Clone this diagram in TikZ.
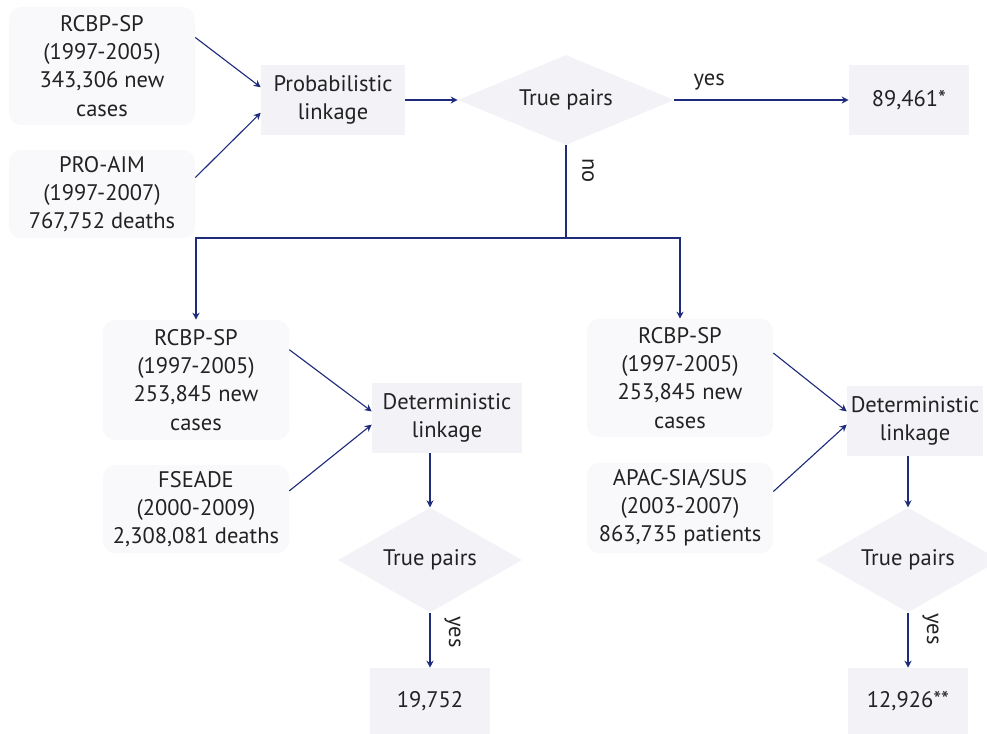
\documentclass[tikz,border=0pt]{standalone}
\usepackage{fontspec}
\setmainfont{PT Sans}
\usetikzlibrary{arrows.meta}
\usetikzlibrary{shapes.geometric}

\definecolor{linknavy}{HTML}{1F2B7B}
\definecolor{srcfill}{HTML}{F9F9FB}
\definecolor{stepfill}{HTML}{F2F2F7}
\definecolor{txtgray}{HTML}{222222}

\tikzset{
  every node/.style={font=\fontsize{16}{20}\selectfont, text=txtgray},
  srcbox/.style={rectangle, rounded corners=0.3cm, fill=srcfill, align=center, inner sep=0pt, minimum width=4.65cm},
  stepbox/.style={rectangle, fill=stepfill, align=center, inner sep=0pt, minimum height=1.75cm},
  pairbox/.style={diamond, aspect=2.4, fill=stepfill, inner sep=0pt, minimum width=4.6cm, minimum height=2.62cm},
  arr/.style={draw=linknavy, line width=0.8pt, -{Stealth[length=5pt, width=5pt]}},
  conn/.style={draw=linknavy, line width=0.8pt}
}

\begin{document}
\begin{tikzpicture}[x=0.025cm, y=-0.025cm]
      \useasboundingbox (0,0) rectangle (987,733);

      % first linkage
      \node[srcbox, minimum height=2.95cm] (rcbp1) at (102,66) {RCBP-SP\\(1997-2005)\\343,306 new\\cases};
      \node[srcbox, minimum height=2.2cm] (proaim) at (102,194) {PRO-AIM\\(1997-2007)\\767,752 deaths};
      \node[stepbox, minimum width=3.6cm] (prob) at (333,100) {Probabilistic\\linkage};
      \node[pairbox, minimum width=5.4cm, minimum height=2.25cm] (pairs1) at (566,100) {True pairs};
      \node[stepbox, minimum width=3cm] (res1) at (909,100) {89,461*};
      \coordinate (split) at (566,238);

      % second row
      \node[srcbox, minimum height=3cm] (rcbp2) at (196,380) {RCBP-SP\\(1997-2005)\\253,845 new\\cases};
      \node[srcbox, minimum height=2.2cm] (fseade) at (196,509) {FSEADE\\(2000-2009)\\2,308,081 deaths};
      \node[stepbox, minimum width=3.75cm] (det1) at (447,418) {Deterministic\\linkage};
      \node[pairbox] (pairs2) at (430,560) {True pairs};
      \node[stepbox, minimum width=3cm, minimum height=1.65cm] (res2) at (430,701) {19,752};

      \node[srcbox, minimum height=2.95cm] (rcbp3) at (680,378) {RCBP-SP\\(1997-2005)\\253,845 new\\cases};
      \node[srcbox, minimum height=2.25cm] (apac) at (680,508) {APAC-SIA/SUS\\(2003-2007)\\863,735 patients};
      \node[stepbox, minimum width=3.4cm] (det2) at (915,421) {Deterministic\\linkage};
      \node[pairbox] (pairs3) at (908,560) {True pairs};
      \node[stepbox, minimum width=3cm, minimum height=1.65cm] (res3) at (908,701) {12,926**};

      \draw[arr] (rcbp1.17) -- (prob.170);
      \draw[arr] (proaim.10) -- (prob.190);
      \draw[arr] (prob.east) -- (pairs1.west);
      \draw[arr] (pairs1.east) -- node[pos=0.2, above=3pt] {yes} (res1.west);
      \draw[conn] (pairs1.south) -- node[pos=0.27, anchor=south, rotate=-90, inner sep=11pt] {no} (split);
      \draw[arr] (split) -| (rcbp2.north);
      \draw[arr] (split) -| (rcbp3.north);

      \draw[arr] (rcbp2.18) -- (det1.175);
      \draw[arr] (fseade.11) -- (det1.185);
      \draw[arr] (det1.south -| pairs2.north) -- (pairs2.north);
      \draw[arr] (pairs2.south) -- node[pos=0.35, anchor=south, rotate=-90, inner sep=10pt] {yes} (res2.north);

      \draw[arr] (rcbp3.15) -- (det2.172);
      \draw[arr] (apac.10) -- (det2.183);
      \draw[arr] (det2.south -| pairs3.north) -- (pairs3.north);
      \draw[arr] (pairs3.south) -- node[pos=0.3, anchor=south, rotate=-90, inner sep=10pt] {yes} (res3.north);
    \end{tikzpicture}
\end{document}
